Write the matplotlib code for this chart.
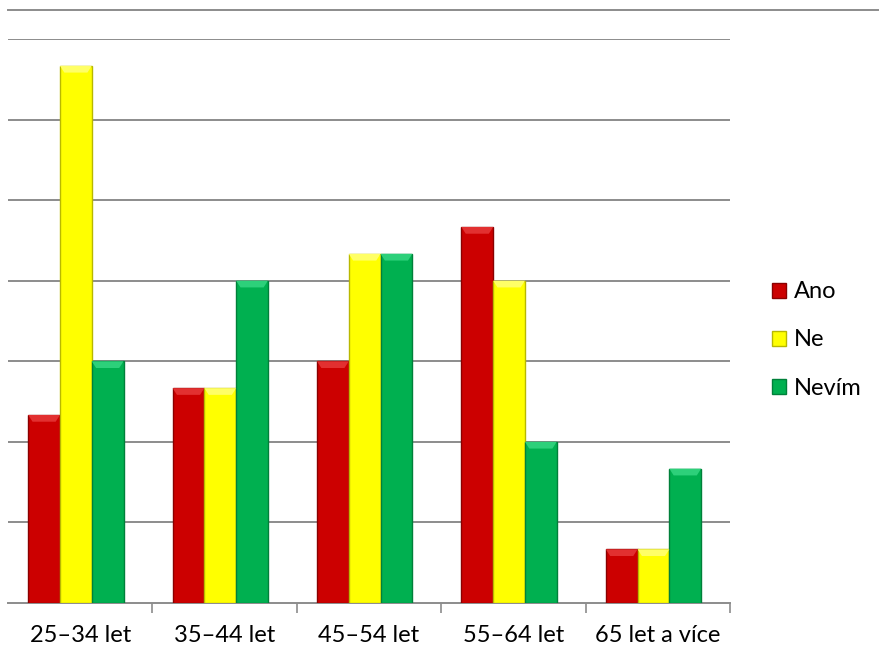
import matplotlib.pyplot as plt
import numpy as np
from matplotlib.lines import Line2D
from matplotlib.patches import Patch

plt.rcParams['font.family'] = ['Lato', 'DejaVu Sans']

categories = ['25–34 let', '35–44 let', '45–54 let', '55–64 let', '65 let a více']
series_names = ['Ano', 'Ne', 'Nevím']
ano = [7, 8, 9, 14, 2]
ne = [20, 8, 13, 12, 2]
nevim = [9, 12, 13, 6, 5]

colors = ['#cc0000', '#ffff00', '#00b050']
edges = ['#8a0000', '#b8b800', '#00803a']
tops = ['#e23030', '#ffff66', '#2dd07a']

fig = plt.figure(figsize=(8.84, 6.64), dpi=100)
W, H = 884, 664
ax = fig.add_axes([8 / W, 61 / H, 722 / W, (603 - 39) / H])

x = np.arange(len(categories))
bw = 0.22
bevel = 0.25  # bevel height in data units
for i, (vals, c, e, t) in enumerate(zip([ano, ne, nevim], colors, edges, tops)):
    pos = x + (i - 1) * bw - 0.03
    ax.bar(pos, vals, width=bw, color=c, edgecolor=e, linewidth=1.0, zorder=3)
    # light bevel at the top of each bar
    for p, v in zip(pos, vals):
        l, r = p - bw / 2, p + bw / 2
        ax.fill([l, r, r - 0.03, l + 0.03], [v, v, v - bevel, v - bevel],
                color=t, zorder=4, linewidth=0)

ax.set_xlim(-0.5, len(categories) - 0.5)
ax.set_ylim(0, 21)
ax.set_yticks(np.arange(3, 22, 3))
ax.yaxis.grid(True, color='#8c8c8c', linewidth=1.4, zorder=0)
ax.tick_params(axis='y', left=False, labelleft=False)
ax.set_xticks(x)
ax.set_xticklabels(categories, fontsize=17)
ax.set_xticks(np.arange(0.5, len(categories), 1.0), minor=True)
ax.tick_params(axis='x', which='major', length=0, pad=16)
ax.tick_params(axis='x', which='minor', length=7, color='#8c8c8c', width=1.2)
for s in ['top', 'left', 'right']:
    ax.spines[s].set_visible(False)
ax.spines['bottom'].set_color('#8c8c8c')
ax.spines['bottom'].set_linewidth(1.4)

fig.add_artist(Line2D([8 / W, 878 / W], [1 - 10 / H, 1 - 10 / H],
                      color='#8c8c8c', linewidth=1.4))

handles = [Patch(facecolor=c, edgecolor=e, label=n)
           for c, e, n in zip(colors, edges, series_names)]
fig.legend(handles=handles, loc='center left', bbox_to_anchor=(751 / W, 1 - 340 / H),
           frameon=False, fontsize=17, handlelength=0.6, handleheight=0.6,
           handletextpad=0.3, labelspacing=1.15)

fig.savefig('out.png', dpi=100)
